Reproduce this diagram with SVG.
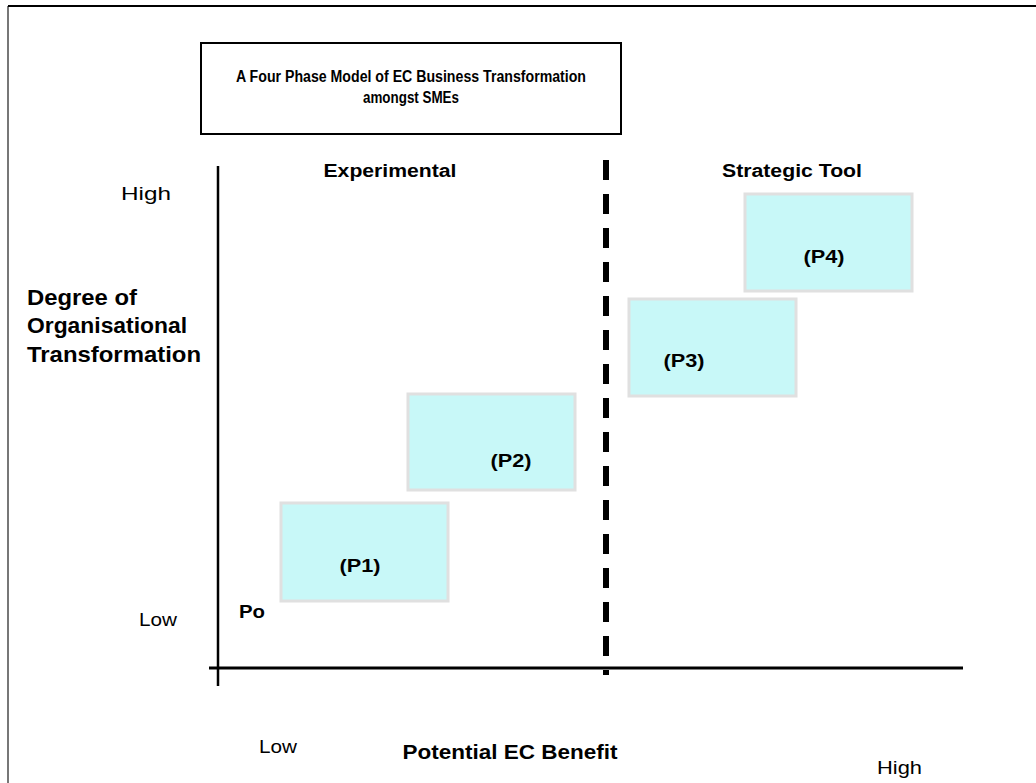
<svg xmlns="http://www.w3.org/2000/svg" width="1036" height="783" viewBox="0 0 1036 783">
<style>
.t{font-family:"Liberation Sans",Arial,sans-serif;fill:#000}
.b{font-weight:bold}
.ph rect{fill:#C8F8F8;stroke:#E0E0E0;stroke-width:3}
</style>
<rect x="0" y="0" width="1036" height="783" fill="#fff"/>
<g id="frame">
<line x1="8" y1="6" x2="8" y2="783" stroke="#777" stroke-width="2"/>
<line x1="8" y1="6" x2="1036" y2="6" stroke="#000" stroke-width="2"/>
</g>
<g id="title">
<rect x="201" y="43" width="420" height="91" fill="#fff" stroke="#000" stroke-width="2"/>
<text class="t b" x="411" y="82" font-size="16" text-anchor="middle" textLength="350" lengthAdjust="spacingAndGlyphs">A Four Phase Model of EC Business Transformation</text>
<text class="t b" x="411" y="103" font-size="16" text-anchor="middle" textLength="96" lengthAdjust="spacingAndGlyphs">amongst SMEs</text>
</g>
<g id="connectors">
<line x1="218" y1="166" x2="218" y2="686" stroke="#000" stroke-width="2.5"/>
<line x1="209" y1="668" x2="963" y2="668" stroke="#000" stroke-width="3"/>
<line x1="606" y1="160" x2="606" y2="675" stroke="#000" stroke-width="6" stroke-dasharray="20 14"/>
</g>
<g id="labels">
<text class="t b" x="390" y="177" font-size="18" text-anchor="middle" textLength="133" lengthAdjust="spacingAndGlyphs">Experimental</text>
<text class="t b" x="792" y="177" font-size="18" text-anchor="middle" textLength="140" lengthAdjust="spacingAndGlyphs">Strategic Tool</text>
<text class="t" x="121" y="200" font-size="19" textLength="50" lengthAdjust="spacingAndGlyphs">High</text>
<text class="t b" x="27" y="305" font-size="22" textLength="110" lengthAdjust="spacingAndGlyphs">Degree of</text>
<text class="t b" x="27" y="333" font-size="22" textLength="160" lengthAdjust="spacingAndGlyphs">Organisational</text>
<text class="t b" x="27" y="362" font-size="22" textLength="174" lengthAdjust="spacingAndGlyphs">Transformation</text>
<text class="t" x="139" y="626" font-size="19" textLength="38" lengthAdjust="spacingAndGlyphs">Low</text>
<text class="t b" x="239" y="618" font-size="19" textLength="26" lengthAdjust="spacingAndGlyphs">Po</text>
<text class="t b" x="510" y="759" font-size="20" text-anchor="middle" textLength="215" lengthAdjust="spacingAndGlyphs">Potential EC Benefit</text>
<text class="t" x="259" y="753" font-size="19" textLength="38" lengthAdjust="spacingAndGlyphs">Low</text>
<text class="t" x="877" y="774" font-size="19" textLength="45" lengthAdjust="spacingAndGlyphs">High</text>
</g>
<g id="P1" class="ph"><rect x="281" y="503" width="167" height="98"/><text class="t b" x="360" y="572" font-size="19" text-anchor="middle" textLength="41" lengthAdjust="spacingAndGlyphs">(P1)</text></g>
<g id="P2" class="ph"><rect x="408" y="394" width="167" height="96"/><text class="t b" x="511" y="467" font-size="19" text-anchor="middle" textLength="41" lengthAdjust="spacingAndGlyphs">(P2)</text></g>
<g id="P3" class="ph"><rect x="629" y="299" width="167" height="97"/><text class="t b" x="684" y="367" font-size="19" text-anchor="middle" textLength="41" lengthAdjust="spacingAndGlyphs">(P3)</text></g>
<g id="P4" class="ph"><rect x="745" y="194" width="167" height="97"/><text class="t b" x="824" y="263" font-size="19" text-anchor="middle" textLength="41" lengthAdjust="spacingAndGlyphs">(P4)</text></g>
</svg>
